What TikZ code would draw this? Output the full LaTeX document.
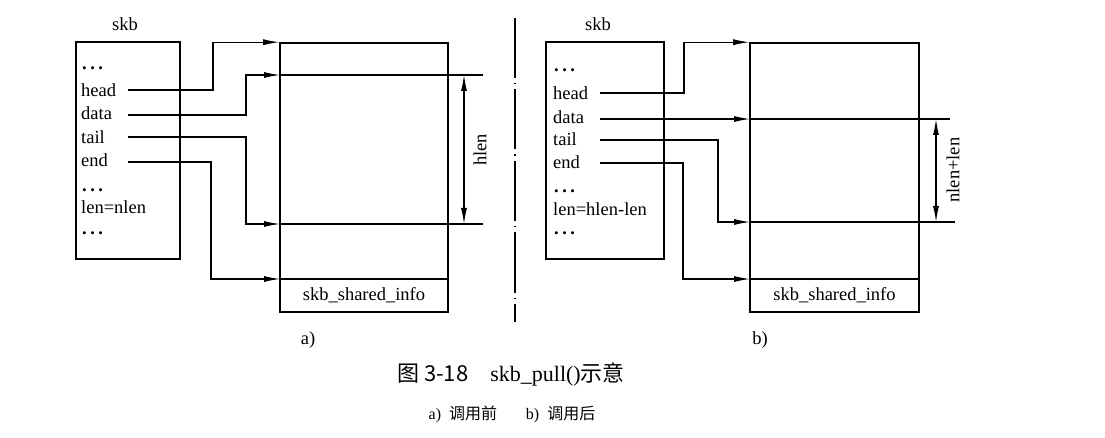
\documentclass[tikz,border=0pt]{standalone}
\usepackage{fontspec}
\setmainfont{Liberation Serif}
\newfontfamily\cjk{Noto Sans CJK SC}
\usetikzlibrary{arrows.meta}
\newcommand{\dotsrow}{\textbf{.\hspace{3.5pt}.\hspace{3.5pt}.}}

\begin{document}
\begin{tikzpicture}[
    x=1pt, y=-1pt,
    box/.style={draw, line width=1.6pt, inner sep=0pt},
    ptr/.style={line width=1.1pt, -{Latex[length=16pt,width=6pt]}},
    bufline/.style={line width=1.1pt},
    dim/.style={line width=1.1pt, {Latex[length=16pt,width=6pt]}-{Latex[length=16pt,width=6pt]}},
    field/.style={anchor=base west, inner sep=0pt, font=\fontsize{18.5}{20}\selectfont},
    title/.style={anchor=base, inner sep=0pt, font=\fontsize{18.5}{20}\selectfont}
]
\useasboundingbox (0,0) rectangle (1105,438);

% ---------- a) before ----------
\node[title] (skbA) at (125,31) {skb};
\node[box, minimum width=104pt, minimum height=217pt] (structA) at (128,150.5) {};
\node[field] (d1A) at (82,70) {\dotsrow};
\node[field] (headA) at (81,97) {head};
\node[field] (dataA) at (81,120) {data};
\node[field] (tailA) at (81,144) {tail};
\node[field] (endA) at (81,167) {end};
\node[field] (d2A) at (82,192) {\dotsrow};
\node[field] (lenA) at (81,214) {len=nlen};
\node[field] (d3A) at (82,235) {\dotsrow};

% Buffer
\node[box, minimum width=168pt, minimum height=269pt] (bufA) at (364,177.5) {};
\coordinate (dataPosA) at (280,75);
\coordinate (tailPosA) at (280,224);
\coordinate (endPosA) at (280,279);
\draw[bufline] (dataPosA) -- (483,75);
\draw[bufline] (tailPosA) -- (483,224);
\draw[box] (endPosA) -- (bufA.east |- endPosA);
\node[inner sep=0pt, font=\fontsize{18.5}{20}\selectfont] (infoA) at (364,295) {skb\_shared\_info};

% Pointers
\draw[ptr] (128,90) -| (213,60) |- (bufA.north west);
\draw[ptr] (128,115) -| (246,95) |- (dataPosA);
\draw[ptr] (128,137) -| (246,180) |- (tailPosA);
\draw[ptr] (128,162) -| (211,220) |- (endPosA);

% hlen
\coordinate (hlenTop) at (464,75);
\coordinate (hlenBot) at (464,224);
\draw[dim] (hlenTop) -- (hlenBot);
\node[rotate=90, inner sep=0pt, font=\fontsize{18.5}{20}\selectfont] (hlenA) at (480,150) {hlen};

% ---------- divider ----------
\coordinate (divTop) at (515,18);
\coordinate (divBot) at (515,322);
\draw[line width=1.2pt, dash pattern=on 60pt off 5pt on 1.5pt off 5pt] (divTop) -- (divBot);

% ---------- b) after ----------
\node[title] (skbB) at (598,31) {skb};
\node[box, minimum width=118pt, minimum height=217pt] (structB) at (605,150.5) {};
\node[field] (d1B) at (554,72) {\dotsrow};
\node[field] (headB) at (553,100) {head};
\node[field] (dataB) at (553,124) {data};
\node[field] (tailB) at (553,146) {tail};
\node[field] (endB) at (553,169) {end};
\node[field] (d2B) at (554,193) {\dotsrow};
\node[field] (lenB) at (553,216) {len=hlen-len};
\node[field] (d3B) at (554,235) {\dotsrow};

% Buffer
\node[box, minimum width=169pt, minimum height=269pt] (bufB) at (834.5,177.5) {};
\coordinate (dataPosB) at (750,119);
\coordinate (tailPosB) at (750,222);
\coordinate (endPosB) at (750,279);
\draw[bufline] (dataPosB) -- (950,119);
\draw[bufline] (tailPosB) -- (955,222);
\draw[box] (endPosB) -- (bufB.east |- endPosB);
\node[inner sep=0pt, font=\fontsize{18.5}{20}\selectfont] (infoB) at (834.5,295) {skb\_shared\_info};

% Pointers
\draw[ptr] (600,93) -| (684,60) |- (bufB.north west);
\draw[ptr] (600,119) -- (dataPosB);
\draw[ptr] (600,140) -| (718,180) |- (tailPosB);
\draw[ptr] (600,163) -| (683,220) |- (endPosB);

% nlen+len
\coordinate (lenTop) at (936,119);
\coordinate (lenBot) at (936,222);
\draw[dim] (lenTop) -- (lenBot);
\node[rotate=90, inner sep=0pt, font=\fontsize{18.5}{20}\selectfont] (lenLabel) at (953,170) {nlen+len};

% ---------- captions ----------
\node[inner sep=0pt, font=\fontsize{18.5}{20}\selectfont] (capA) at (308,340) {a)};
\node[inner sep=0pt, font=\fontsize{18.5}{20}\selectfont] (capB) at (760,340) {b)};
\node[inner sep=0pt, font=\fontsize{22}{24}\selectfont] (figCap) at (511,375)
    {{\cjk 图 3-18}\quad skb\_pull(){\cjk 示意}};
\node[inner sep=0pt, font=\fontsize{16}{18}\selectfont] (subCap) at (512,414)
    {a)\enspace{\cjk 调用前}\hspace{1.8em}b)\enspace{\cjk 调用后}};

\end{tikzpicture}
\end{document}
